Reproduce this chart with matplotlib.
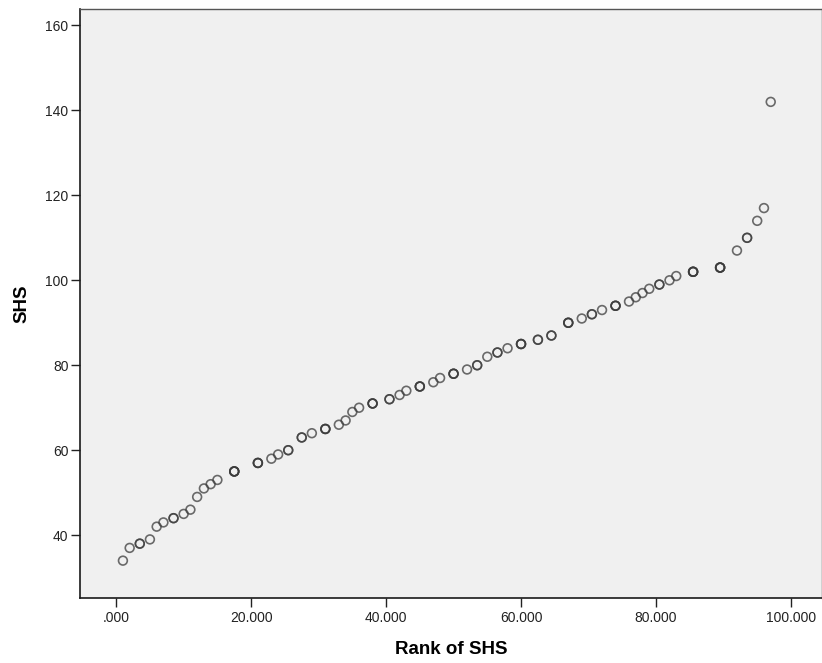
import matplotlib
matplotlib.use("Agg")
import matplotlib.pyplot as plt
from matplotlib.ticker import FuncFormatter

# rank of SHS (tied values share a mean rank) and SHS value
ranks = [1, 2, 3.5, 5, 6, 7, 8.5, 10, 11, 12, 13, 14, 15, 17.5, 21, 23, 24, 25.5,
         27.5, 29, 31, 33, 34, 35, 36, 38, 40.5, 42, 43, 45, 47, 48, 50, 52, 53.5,
         55, 56.5, 58, 60, 62.5, 64.5, 67, 69, 70.5, 72, 74, 76, 77, 78, 79, 80.5,
         82, 83, 85.5, 89.5, 92, 93.5, 95, 96, 97]
shs = [34, 37, 38, 39, 42, 43, 44, 45, 46, 49, 51, 52, 53, 55, 57, 58, 59, 60,
       63, 64, 65, 66, 67, 69, 70, 71, 72, 73, 74, 75, 76, 77, 78, 79, 80,
       82, 83, 84, 85, 86, 87, 90, 91, 92, 93, 94, 95, 96, 97, 98, 99,
       100, 101, 102, 103, 107, 110, 114, 117, 142]
# number of cases at each point (overlapping circles draw darker)
ties = [1, 1, 2, 1, 1, 1, 2, 1, 1, 1, 1, 1, 1, 4, 3, 1, 1, 2,
        2, 1, 3, 1, 1, 1, 1, 3, 2, 1, 1, 3, 1, 1, 3, 1, 2,
        1, 2, 1, 3, 2, 2, 3, 1, 2, 1, 3, 1, 1, 1, 1, 2,
        1, 1, 4, 4, 1, 2, 1, 1, 1]

x_ticks = [0, 20, 40, 60, 80, 100]
y_ticks = [40, 60, 80, 100, 120, 140, 160]

plt.rcParams["font.family"] = ["Liberation Sans", "DejaVu Sans"]

fig = plt.figure(figsize=(8.22, 6.63), dpi=100)
ax = fig.add_axes([0.097, 0.098, 0.903, 0.888])
ax.set_facecolor("#F0F0F0")

xs = [r for r, n in zip(ranks, ties) for _ in range(n)]
ys = [v for v, n in zip(shs, ties) for _ in range(n)]
ax.scatter(xs, ys, s=40, facecolors="none", edgecolors="#3c3c3c",
           linewidths=1.2, alpha=0.75, zorder=3)

ax.set_xlim(-5.4, 104.6)
ax.set_ylim(25.2, 163.8)
ax.set_xticks(x_ticks)
ax.set_yticks(y_ticks)


def spss_fmt(v, pos):
    s = f"{v:.3f}"
    return s[1:] if s.startswith("0") else s


ax.xaxis.set_major_formatter(FuncFormatter(spss_fmt))
ax.tick_params(axis="both", direction="out", length=6.5, width=1,
               color="#222222", labelsize=10, labelcolor="#222222")
ax.tick_params(axis="x", pad=2.5)
ax.tick_params(axis="y", pad=1.5)

for side in ["left", "bottom"]:
    ax.spines[side].set_color("#1a1a1a")
    ax.spines[side].set_linewidth(1.2)
for side in ["top", "right"]:
    ax.spines[side].set_color("#555555")
    ax.spines[side].set_linewidth(1.0)

ax.set_xlabel("Rank of SHS", fontsize=13.5, fontweight="bold", labelpad=12)
ax.set_ylabel("SHS", fontsize=13.5, fontweight="bold", labelpad=11)

fig.savefig("out.png", dpi=100)
